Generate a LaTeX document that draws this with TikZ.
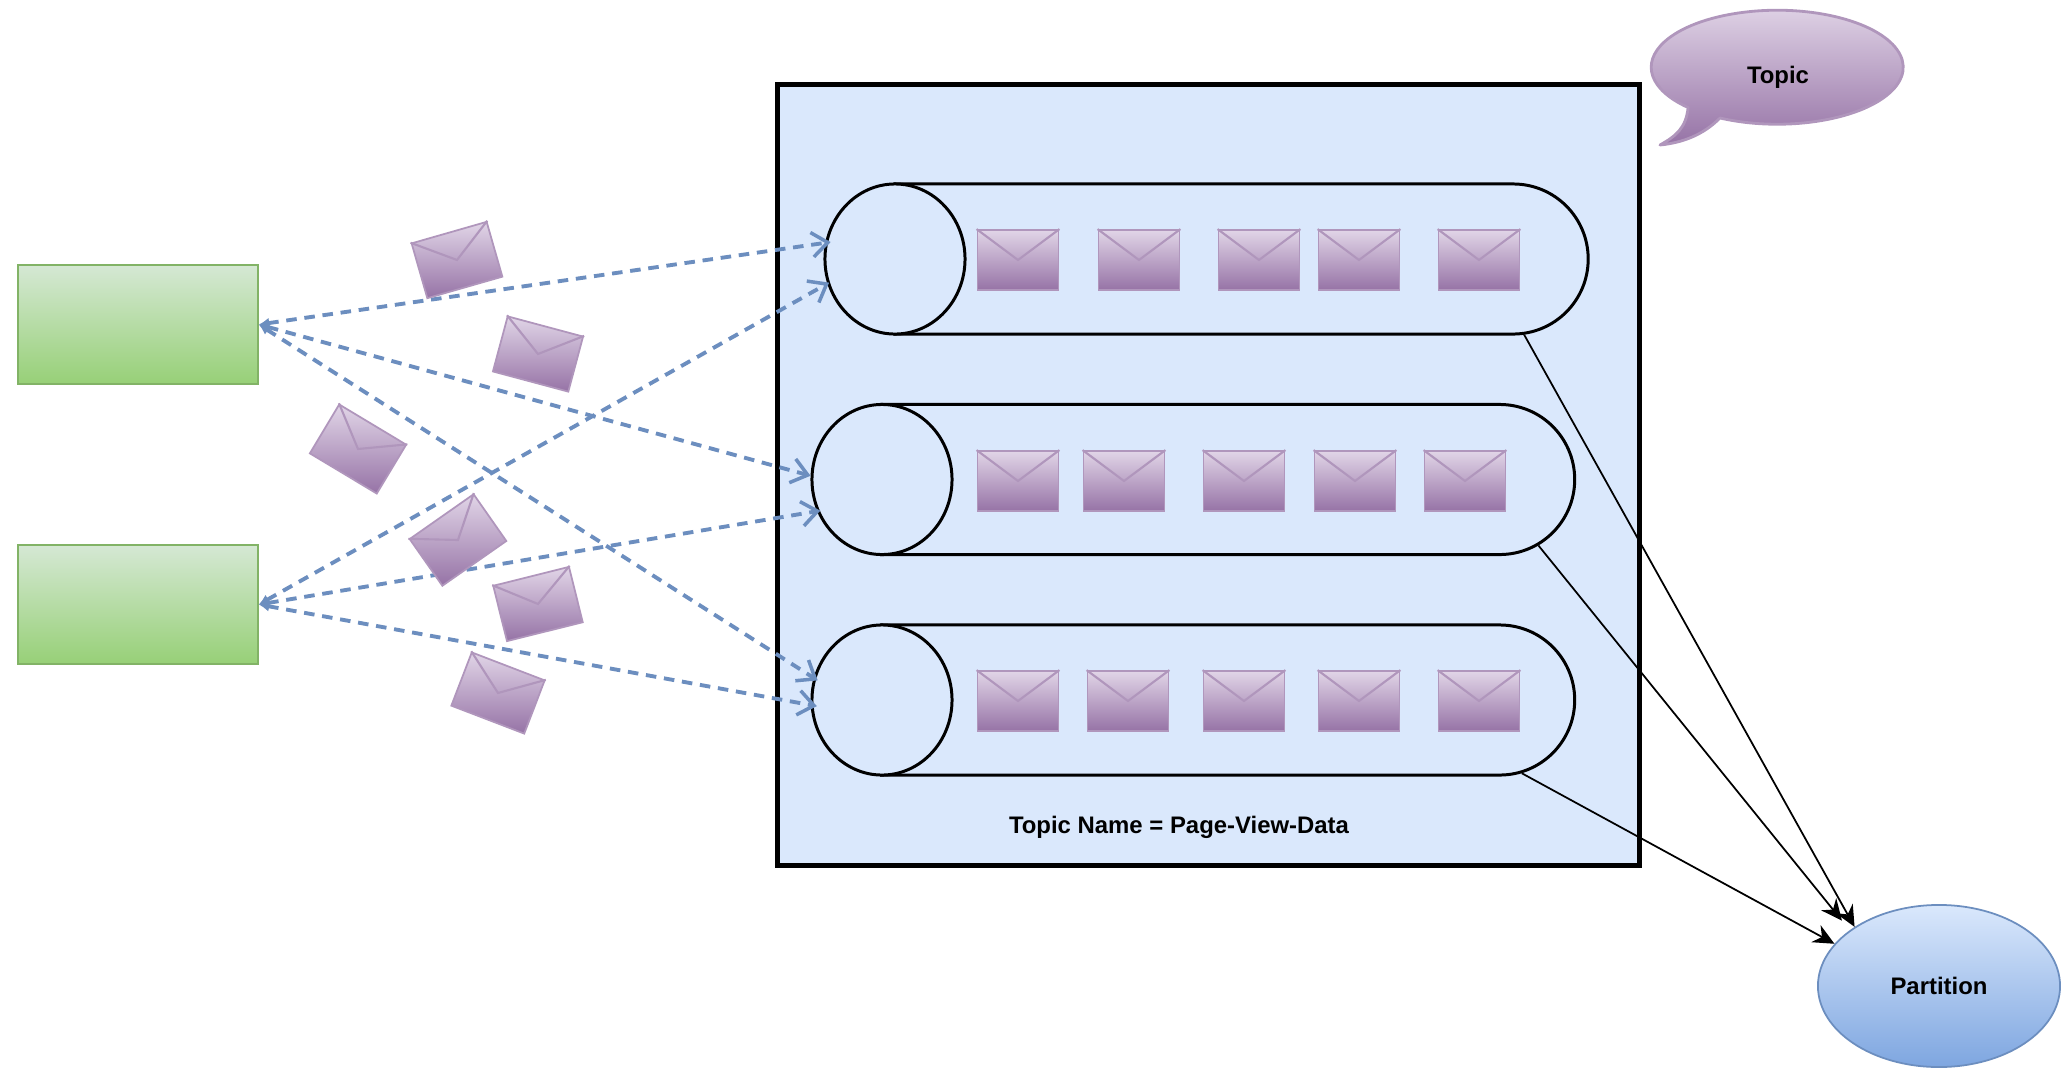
\documentclass[tikz,border=0pt]{standalone}
\usepackage{fontspec}
\setmainfont{Liberation Sans}
\usetikzlibrary{arrows.meta,shapes.geometric,shapes.misc}
\definecolor{boxblue}{HTML}{DAE8FC}
\definecolor{dashblue}{HTML}{6C8EBF}
\definecolor{partblue}{HTML}{7EA6E0}
\definecolor{greentop}{HTML}{D5E8D4}
\definecolor{greenbot}{HTML}{97D077}
\definecolor{greenedge}{HTML}{82B366}
\definecolor{mailtop}{HTML}{E1D5E7}
\definecolor{mailbot}{HTML}{9673A6}
\tikzset{
  label/.style={font=\fontsize{6.8}{8}\selectfont\bfseries, text=black, inner sep=0pt},
  producer/.style={rectangle, draw=greenedge, top color=greentop, bottom color=greenbot, minimum width=2.4cm, minimum height=1.19cm, inner sep=0pt},
  envelope/.style={rectangle, draw=mailbot!75, line width=0.5pt, top color=mailtop, bottom color=mailbot, minimum width=0.81cm, minimum height=0.6cm, inner sep=0pt},
  flap/.style={draw=mailbot!75, line width=0.6pt},
  body/.style={rounded rectangle, rounded rectangle west arc=none, draw=black, line width=0.85pt, minimum width=6.93cm, minimum height=1.5cm, inner sep=0pt},
  head/.style={ellipse, draw=black, fill=boxblue, line width=0.85pt, minimum width=1.4cm, minimum height=1.5cm, inner sep=0pt},
  send/.style={line width=1.1pt, draw=dashblue, dash pattern=on 3pt off 2.2pt, {Latex[length=3pt,width=3pt]}-{Straight Barb[length=4.5pt,width=7pt,line width=1pt]}},
  member/.style={line width=0.5pt, -{Stealth[length=6pt,width=5.5pt]}}
}
\begin{document}
\begin{tikzpicture}[x=0.01cm, y=-0.01cm]
  \useasboundingbox (0,0) rectangle (2071,1069);

  \node[rectangle, draw=black, fill=boxblue, line width=1.45pt, minimum width=8.61cm, minimum height=7.8cm, inner sep=0pt] (topicbox) at (1208.5,475) {};

  % producers
  \node[producer] (prod1) at (138,324.5) {};
  \node[producer] (prod2) at (138,604.5) {};

  % partitions
  \foreach \n/\bx/\hx/\y in {1/1241.5/895/259, 2/1228/882/479.5, 3/1228/882/700} {
    \node[body] (body\n) at (\bx,\y) {};
    \node[head] (head\n) at (\hx,\y) {};
  }

  % messages in the log
  \foreach \n/\x/\y in {a/1018/260, b/1139/260, c/1259/260, d/1359/260, e/1479/260,
                        f/1018/481, g/1124/481, h/1244/481, i/1355/481, j/1465/481,
                        k/1018/701, l/1128/701, m/1244/701, n/1359/701, o/1479/701} {
    \node[envelope] (mail\n) at (\x,\y) {};
    \draw[flap] (mail\n.north west) -- (mail\n.center) -- (mail\n.north east);
  }

  \node[label] (caption) at (1179,827) {Topic Name = Page-View-Data};

  % topic bubble
  \path[draw=mailbot!75, line width=0.8pt, line join=round, top color=mailtop, bottom color=mailbot]
    (1720,118) arc (117:-225:126 and 57)
    .. controls (1686,128) and (1676,136) .. (1660,145)
    .. controls (1690,142) and (1708,130) .. (1720,118) -- cycle;
  \node[label] (topic) at (1778,77) {Topic};

  % partition ellipse
  \node[ellipse, draw=dashblue, line width=0.5pt, top color=boxblue, bottom color=partblue, minimum width=2.42cm, minimum height=1.62cm, inner sep=0pt] (part) at (1939,986) {};
  \node[label] (partlabel) at (part.center) {Partition};

  % sends
  \draw[send, shorten >=-1.6pt] (prod1.east) -- (head1.167);
  \draw[send] (prod1.east) -- (head2.177);
  \draw[send, shorten >=-1.4pt] (prod1.east) -- (head3.162);
  \draw[send, shorten >=-0.6pt] (prod2.east) -- (head1.200);
  \draw[send, shorten >=-1pt] (prod2.east) -- (head2.206);
  \draw[send, shorten >=-1.8pt] (prod2.east) -- (head3.184);

  % messages on the way
  \foreach \n/\x/\y/\r in {p/457/260/16, q/538/354/-15, r/358/449/-31,
                           s/458/540/35, t/538/604/14, u/498/693/-21} {
    \node[envelope, rotate=\r, minimum width=0.78cm, minimum height=0.57cm] (mail\n) at (\x,\y) {};
    \draw[flap] (mail\n.north west) -- (mail\n.center) -- (mail\n.north east);
  }

  \draw[member] (body1.-15.2) -- (part.145);
  \draw[member, shorten >=3.5pt] (body2.-12.3) -- (part.148);
  \draw[member] (body3.-14.9) -- (part.158);
\end{tikzpicture}
\end{document}
